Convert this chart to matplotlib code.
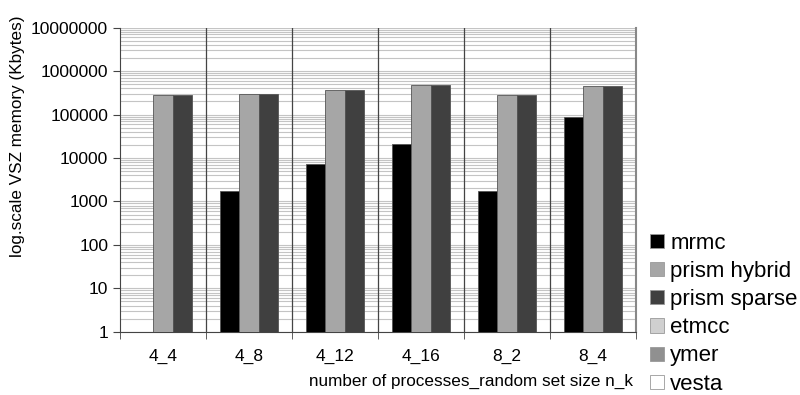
import matplotlib
matplotlib.use("Agg")
import matplotlib.pyplot as plt
import numpy as np
from matplotlib.patches import Patch
from matplotlib.ticker import LogLocator, FixedLocator, NullFormatter

plt.rcParams['font.family'] = ['Liberation Sans', 'DejaVu Sans']

groups = ['4_4', '4_8', '4_12', '4_16', '8_2', '8_4']
series = ['mrmc', 'prism hybrid', 'prism sparse', 'etmcc', 'ymer', 'vesta']
colors = ['#000000', '#a6a6a6', '#404040', '#d0d0d0', '#909090', '#ffffff']

mrmc = [np.nan, 1700, 7200, 21000, 1700, 87000]
prism_hybrid = [275000, 290000, 372000, 490000, 282000, 455000]
prism_sparse = [278000, 290000, 375000, 490000, 282000, 460000]

fig = plt.figure(figsize=(8, 3.95), dpi=100)
ax = fig.add_axes([0.150, 0.160, 0.645, 0.770])

x = np.arange(len(groups))
w = 0.225
for i, vals in enumerate([mrmc, prism_hybrid, prism_sparse]):
    ax.bar(x + (i - 1) * w, vals, w, bottom=1, color=colors[i],
           edgecolor='#555555', linewidth=0.6, zorder=3)

ax.set_yscale('log')
ax.set_ylim(1, 1e7)
ax.set_xlim(-0.5, len(groups) - 0.5)
ax.set_yticks([10 ** k for k in range(8)])
ax.set_yticklabels([str(10 ** k) for k in range(8)])
ax.yaxis.set_minor_locator(LogLocator(base=10, subs=np.arange(2, 10), numticks=100))
ax.yaxis.set_minor_formatter(NullFormatter())
ax.grid(axis='y', which='both', color='#c4c4c4', linewidth=0.8, zorder=0)

ax.set_xticks(x)
ax.set_xticklabels(groups)
ax.xaxis.set_minor_locator(FixedLocator(np.arange(-0.5, len(groups), 1)))
ax.tick_params(axis='x', which='major', length=0, pad=12, labelsize=12.5)
ax.tick_params(axis='x', which='minor', length=5, color='#444444')
ax.tick_params(axis='y', which='major', length=5, color='#444444', labelsize=12.5)
ax.tick_params(axis='y', which='minor', length=0)
for b in np.arange(0.5, len(groups) - 0.5, 1):
    ax.axvline(b, color='#444444', linewidth=0.9, zorder=2)

ax.spines['top'].set_visible(False)
ax.spines['left'].set_color('#444444')
ax.spines['bottom'].set_color('#444444')
ax.spines['right'].set_color('#888888')
ax.spines['right'].set_linewidth(1.5)

fig.text(0.0225, 0.656, 'log.scale VSZ memory (Kbytes)', fontsize=12.3,
         rotation=90, ha='center', va='center')
fig.text(0.386, 0.035, 'number of processes_random set size n_k', fontsize=12.3,
         ha='left', va='center')

handles = [Patch(facecolor=c, edgecolor='#999999', linewidth=0.6) for c in colors]
fig.legend(handles, series, loc='upper left', bbox_to_anchor=(0.813, 0.41),
           frameon=False, fontsize=16, handlelength=0.6, handleheight=0.6,
           handletextpad=0.3, labelspacing=0.32, borderpad=0, borderaxespad=0)

fig.savefig('out.png', dpi=100)
